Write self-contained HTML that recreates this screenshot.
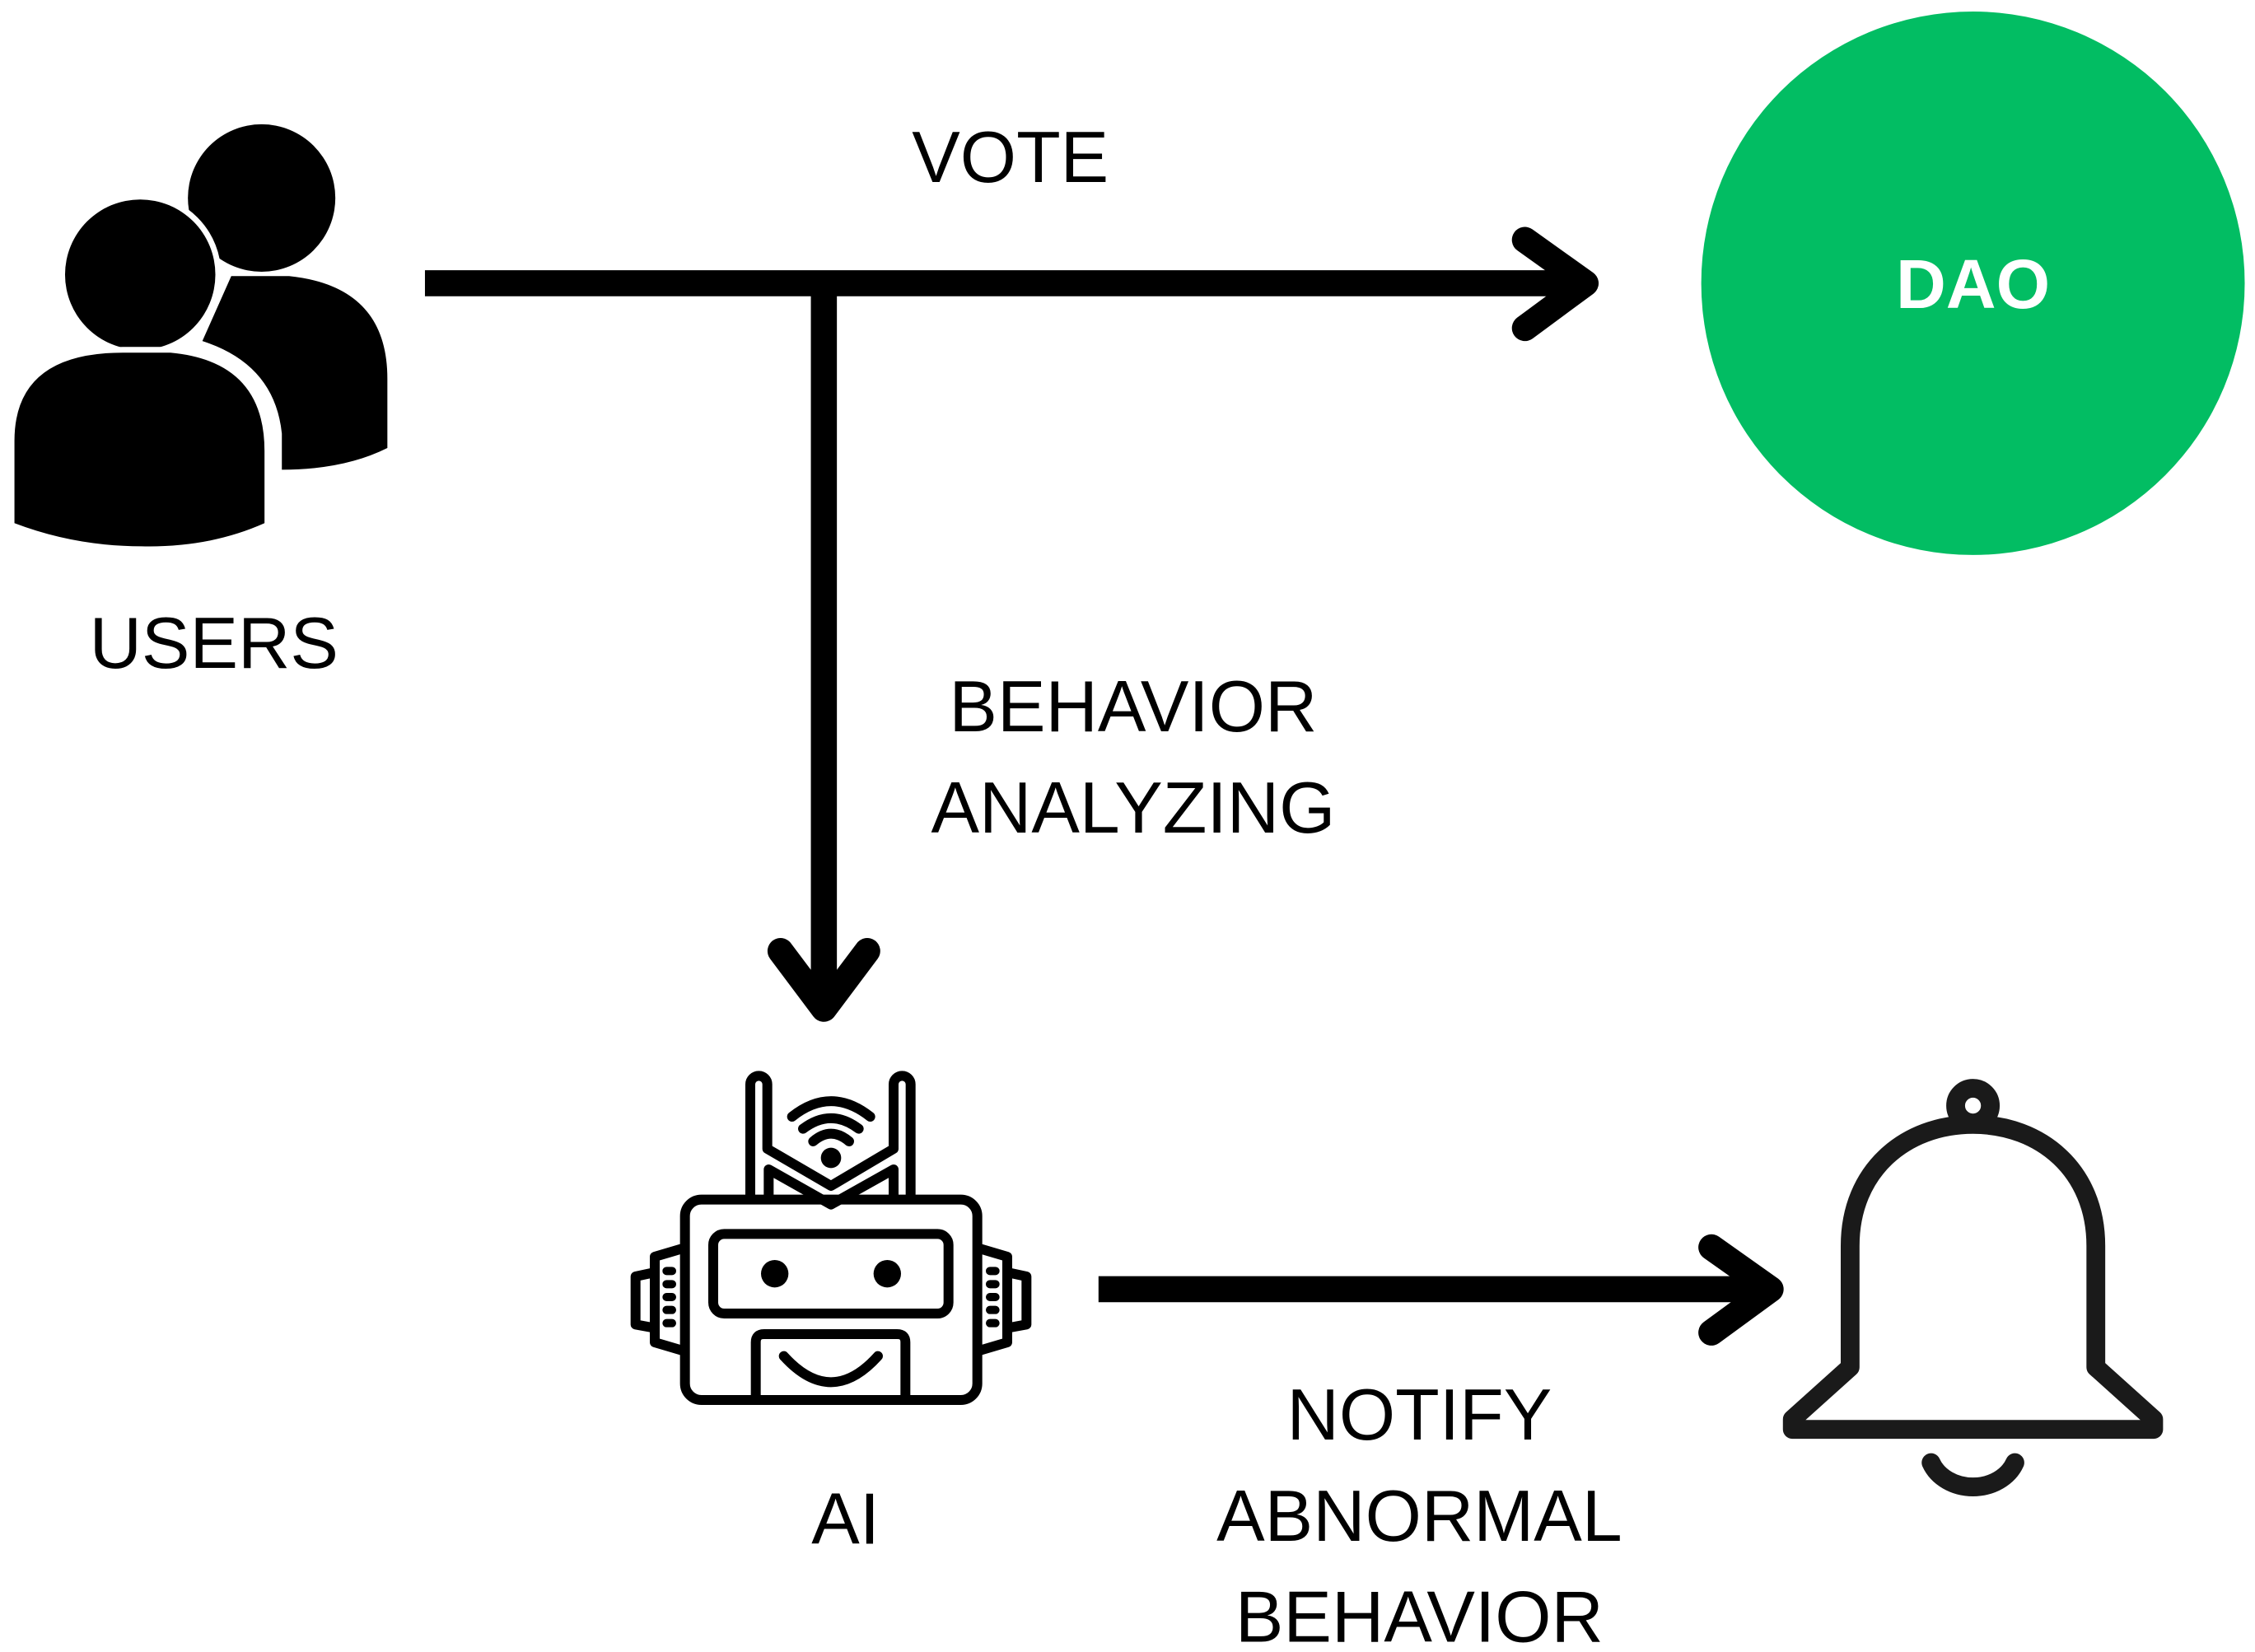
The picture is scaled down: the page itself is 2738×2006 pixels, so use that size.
<!DOCTYPE html>
<html><head><meta charset="utf-8"><style>
html,body{margin:0;padding:0;background:#fff;}
svg{display:block;}
text{font-family:"Liberation Sans",Arial,sans-serif;}
</style></head><body>
<svg width="2738" height="2006" viewBox="0 0 2738 2006" xmlns="http://www.w3.org/2000/svg">
<rect width="2738" height="2006" fill="#fff"/>
<g transform="scale(1.755)">
  <circle cx="181" cy="137" r="51" fill="#000"/>
  <path d="M160,191 H200 Q268,198 268,262 V310 Q238,325 195,325 V300 Q190,252 140,236 Z" fill="#000"/>
  <g stroke="#fff" stroke-width="8" paint-order="stroke" fill="#000">
    <circle cx="97" cy="190" r="52"/>
    <path d="M10,305 Q10,244 85,244 H118 Q183,250 183,312 V362 Q145,379 98,378 Q52,378 10,362 Z"/>
  </g>
  <text x="148" y="462" font-size="50" text-anchor="middle" fill="#000">USERS</text>
  <g stroke="#000" stroke-width="18" fill="none" stroke-linecap="round" stroke-linejoin="round">
    <path d="M294,196 H1095" stroke-linecap="butt"/>
    <path d="M1055,166 L1097,196 L1055,227"/>
    <path d="M570,196 V693" stroke-linecap="butt"/>
    <path d="M540,658 L570,698 L600,658"/>
    <path d="M760,892 H1222" stroke-linecap="butt"/>
    <path d="M1184,863 L1225,892 L1184,922"/>
  </g>
  <text x="699" y="126" font-size="50" text-anchor="middle" fill="#000">VOTE</text>
  <circle cx="1365" cy="196" r="188" fill="#02bd63"/>
  <text x="1365" y="213" font-size="48" font-weight="bold" text-anchor="middle" fill="#fff">DAO</text>
  <text x="784" y="506" font-size="50" text-anchor="middle" fill="#000">BEHAVIOR</text>
  <text x="784" y="576" font-size="50" text-anchor="middle" fill="#000">ANALYZING</text>
  <text x="585" y="1068" font-size="50" text-anchor="middle" fill="#000">AI</text>
  <text x="982" y="996" font-size="50" text-anchor="middle" fill="#000">NOTIFY</text>
  <text x="982" y="1066" font-size="50" text-anchor="middle" fill="#000">ABNORMAL</text>
  <text x="982" y="1136" font-size="50" text-anchor="middle" fill="#000">BEHAVIOR</text>
  <g stroke="#1a1a1a" stroke-width="13" fill="none" stroke-linecap="round" stroke-linejoin="round">
    <circle cx="1365" cy="765" r="12"/>
    <path d="M1280,946 V862 C1280,810 1318,778 1365,778 C1412,778 1450,810 1450,862 V946 L1490,982 V989 H1240 V982 Z"/>
    <path d="M1336,1012 A31,26 0 0 0 1394,1012"/>
  </g>
</g>
<g transform="translate(750,1280) scale(0.33333)" stroke="#000" stroke-width="36" fill="none" stroke-linecap="round" stroke-linejoin="round">
  <rect x="245" y="530" width="1065" height="730" rx="60" fill="#fff"/>
  <rect x="348" y="655" width="857" height="290" rx="40"/>
  <circle cx="572" cy="800" r="50" fill="#000" stroke="none"/>
  <circle cx="982" cy="800" r="50" fill="#000" stroke="none"/>
  <path d="M503,1250 V1050 Q503,1020 533,1020 H1018 Q1048,1020 1048,1050 V1250"/>
  <path d="M605,1100 Q777,1290 948,1100"/>
  <path d="M483,515 V110 A31,31 0 0 1 545,110 V345 L777,480 L1005,345 V110 A31,31 0 0 1 1067,110 V515"/>
  <path d="M550,515 V420 L777,548 L1005,420 V515"/>
  <circle cx="777" cy="378" r="37" fill="#000" stroke="none"/>
  <path d="M712,318 Q777,262 843,318"/>
  <path d="M675,272 Q777,195 878,272"/>
  <path d="M635,228 Q777,115 920,228"/>
  <path d="M230,710 L135,738 V1050 L230,1078"/>
  <path d="M135,795 L65,810 V985 L135,998"/>
  <path d="M1324,710 L1419,738 V1050 L1324,1078"/>
  <path d="M1419,795 L1489,810 V985 L1419,998"/>
  <g stroke-width="30">
    <path d="M178,790 H198 M178,838 H198 M178,885 H198 M178,932 H198 M178,980 H198"/>
    <path d="M1356,790 H1376 M1356,838 H1376 M1356,885 H1376 M1356,932 H1376 M1356,980 H1376"/>
  </g>
</g>
</svg>
</body></html>
